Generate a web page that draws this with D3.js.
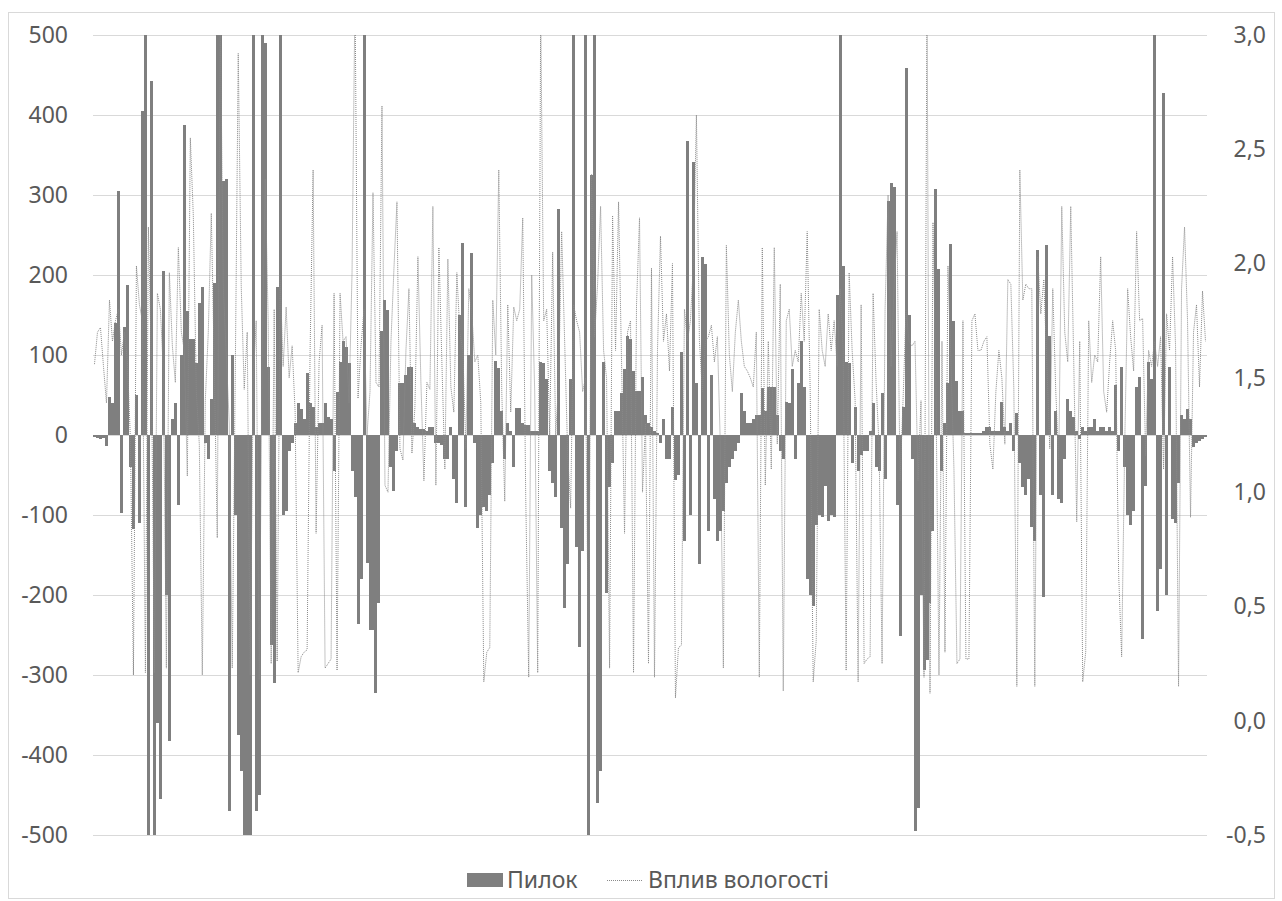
<!DOCTYPE html>
<html>
<head>
<meta charset="utf-8">
<script src="https://cdn.jsdelivr.net/npm/d3@7"></script>
<style>
  html, body { margin: 0; padding: 0; background: #ffffff; }
  svg { display: block; }
  text { font-family: "Noto Sans", "Open Sans", sans-serif; fill: #595959; }
</style>
</head>
<body>
<svg id="chart" width="1282" height="901"></svg>
<script>
// Daily dust load ("Пилок") and humidity effect ("Вплив вологості")
const pylok = [
  -3,-4,-5,-4,-14,48,40,140,305,-98,
  135,187,-40,-117,50,-110,405,600,-560,443,
  -600,-360,-455,205,-200,-383,20,40,-88,100,
  387,155,120,120,90,165,
  185,-10,-30,45,190,600,540,318,320,-470,
  100,-100,-375,-420,-520,-540,-505,600,-470,-450,
  560,490,85,-263,-310,185,560,-100,-95,-20,
  -10,15,40,33,20,78,40,35,
  10,15,15,40,22,20,-45,54,91,117,
  110,90,-45,-77,-236,-180,600,-160,-244,-244,
  -322,-210,130,169,156,-40,-70,-20,65,65,
  75,85,85,15,10,8,8,5,
  10,10,-10,-10,-12,-30,-30,10,-55,-85,
  150,240,-90,100,228,-10,-116,-100,-90,-95,
  -75,-35,93,84,30,-30,15,5,-40,34,
  34,15,12,12,5,5,5,91,
  90,70,-45,-60,-77,283,-116,-216,-161,70,
  560,-140,-265,-145,600,-560,325,580,-460,-420,
  91,-197,-65,-35,30,30,52,82,124,120,
  80,55,55,72,25,15,10,5,3,
  -10,20,-30,-30,35,-56,-50,104,-132,368,
  -100,341,65,-161,223,214,-120,75,-80,-132,
  -120,-95,-60,-40,-30,-20,-10,52,30,15,
  15,20,25,25,59,30,60,60,
  60,25,-20,-30,41,40,82,-30,65,117,
  60,-180,-200,-214,-113,-100,-103,-64,-108,-100,
  -103,175,620,211,91,90,-35,35,-45,-25,
  -20,-20,5,40,-40,-45,52,-55,
  292,315,310,-87,-251,35,459,150,-30,-495,
  -466,-200,-294,-281,-210,-120,308,208,-45,15,
  65,239,143,67,30,30,3,3,2,2,
  3,3,5,10,10,5,5,5,
  41,10,5,15,-20,28,-35,-65,-75,-55,
  -115,-132,231,-75,-203,237,124,-75,30,-80,
  -85,-30,45,30,23,5,-5,10,5,10,
  10,20,5,
  10,10,5,10,5,62,-20,85,-40,-100,
  -113,-95,60,72,-255,-64,91,70,600,-220,
  -168,428,-200,85,-105,-110,-60,25,20,33,
  20,-15,-10,-8,-5,-3
];

const vplyv = [
  1.56,1.7,1.72,1.55,1.39,1.84,1.66,1.75,1.8,1.6,
  1.7,1.57,1.23,0.2,1.99,1.82,1.75,0.21,2.16,1.57,
  0.21,1.87,1.8,1.53,0.23,1.96,1.64,1.48,2.07,1.7,
  1.62,1.07,2.55,2.21,1.44,1.21,
  0.2,1.4,1.7,2.22,1.55,0.8,3.1,1.9,1.6,1.3,
  0.23,1.5,2.92,1.9,1.45,1.7,0.2,1.5,1.75,0.18,
  1.6,2.37,1.75,0.25,1.8,0.26,1.93,1.55,1.81,1.5,
  1.64,1.35,0.21,0.28,0.3,0.31,1.62,2.41,
  0.82,1.57,1.73,0.23,0.25,0.27,1.87,0.22,1.87,1.66,
  1.68,1.39,1.96,3.2,1.41,1.64,1.8,1.25,1.44,2.31,
  1.48,1.46,2.69,1.03,1.0,1.66,1.98,2.27,1.19,1.14,
  1.62,1.89,1.17,1.37,2.03,1.48,1.05,1.48,
  1.45,2.25,1.03,2.07,1.57,1.1,2.02,1.46,1.35,1.96,
  1.7,1.62,1.19,1.89,1.78,1.57,1.6,1.39,0.17,0.3,
  0.32,1.84,1.6,2.41,1.44,0.96,1.82,1.35,1.81,1.75,
  1.8,2.2,0.98,0.19,1.95,1.44,0.21,3.1,
  1.75,1.8,1.25,2.05,1.25,1.48,2.14,1.66,1.17,0.93,
  1.82,1.75,1.7,1.44,1.5,0.21,2.39,1.68,1.91,2.25,
  1.62,1.5,0.23,2.21,1.62,2.27,1.57,0.82,1.7,1.75,
  0.21,1.82,2.2,1.0,1.3,0.25,1.98,0.19,1.62,
  2.12,1.66,1.78,1.53,2.0,0.1,0.32,0.33,1.8,1.66,
  1.75,2.0,2.65,1.66,1.44,1.66,1.68,1.73,1.57,1.68,
  1.2,0.23,2.08,1.6,1.44,1.7,1.84,1.66,1.55,1.53,
  1.5,1.46,1.7,0.19,2.07,1.03,1.66,1.1,
  2.07,1.21,1.91,0.13,1.75,1.8,1.55,1.62,1.57,1.87,
  1.66,2.14,1.44,0.17,0.35,1.8,1.62,1.55,1.78,1.62,
  1.75,1.55,1.89,1.62,0.22,1.96,1.62,1.4,0.17,1.82,
  0.25,0.27,0.28,1.87,1.48,1.2,0.25,1.8,
  2.3,1.55,1.9,2.14,1.05,1.4,1.8,1.66,1.64,1.66,
  1.05,1.4,0.19,3.2,0.12,2.18,1.44,0.2,1.66,0.3,
  1.99,1.57,1.1,0.25,0.27,1.75,0.27,0.27,1.75,1.78,
  1.62,1.62,1.66,1.68,1.21,1.1,1.44,1.62,
  1.5,1.21,1.93,1.91,1.45,0.15,2.41,1.84,1.91,1.89,
  1.89,0.15,2.03,1.78,1.93,1.57,1.19,1.89,1.44,1.14,
  2.25,1.7,1.57,2.25,1.57,0.87,1.66,0.17,0.3,1.75,
  1.48,1.6,1.57,
  2.03,1.44,1.35,1.57,1.75,1.62,0.64,0.28,1.19,1.89,
  1.68,1.53,2.14,1.75,1.76,1.16,1.62,1.55,1.66,1.55,
  1.68,1.1,1.78,1.62,2.03,1.64,0.15,1.89,2.16,1.75,
  0.89,1.7,1.82,1.46,1.88,1.66
];

// Day numbers along the (unlabelled) category axis
const days = pylok.map((_, i) => i + 1);

const leftTicks = [500, 400, 300, 200, 100, 0, -100, -200, -300, -400, -500];
const rightTicks = [3.0, 2.5, 2.0, 1.5, 1.0, 0.5, 0.0, -0.5];
const seriesNames = ["Пилок", "Вплив вологості"];

const plot = { left: 93, right: 1207, top: 35, bottom: 835 };
const barColor = "#7f7f7f";
const lineColor = "#8a8a8a";
const gridColor = "#d9d9d9";

const svg = d3.select("#chart");

// chart area frame
svg.append("rect")
  .attr("x", 8.5).attr("y", 12.5)
  .attr("width", 1266).attr("height", 886)
  .attr("fill", "#fff").attr("stroke", gridColor);

const x = d3.scaleBand().domain(days).range([plot.left, plot.right]).padding(0);
const yL = d3.scaleLinear().domain([-500, 500]).range([plot.bottom, plot.top]);
const yR = d3.scaleLinear().domain([-0.5, 3.0]).range([plot.bottom, plot.top]);

svg.append("defs").append("clipPath").attr("id", "plotClip")
  .append("rect")
  .attr("x", plot.left).attr("y", plot.top)
  .attr("width", plot.right - plot.left).attr("height", plot.bottom - plot.top);

// horizontal gridlines from the primary axis
const leftAxis = d3.axisLeft(yL).tickValues(leftTicks)
  .tickSize(-(plot.right - plot.left)).tickPadding(25)
  .tickFormat(d => String(d));
const gL = svg.append("g").attr("transform", `translate(${plot.left},0)`).call(leftAxis);
gL.select(".domain").remove();
gL.selectAll(".tick line").attr("stroke", gridColor).attr("stroke-width", 1);
gL.selectAll(".tick text")
  .attr("font-size", 23).attr("fill", "#595959")
  .attr("font-family", "'Noto Sans', 'Open Sans', sans-serif");

// secondary axis labels
const fmtR = d => d3.format(".1f")(d).replace(".", ",").replace("−", "-");
const rightAxis = d3.axisRight(yR).tickValues(rightTicks)
  .tickSize(0).tickPadding(0).tickFormat(fmtR);
const gR = svg.append("g").attr("transform", `translate(${plot.right},0)`).call(rightAxis);
gR.select(".domain").remove();
gR.selectAll(".tick text")
  .attr("font-size", 23).attr("fill", "#595959")
  .attr("text-anchor", "end").attr("x", 59)
  .attr("font-family", "'Noto Sans', 'Open Sans', sans-serif");

const body = svg.append("g").attr("clip-path", "url(#plotClip)");

// bars, snapped to whole pixels so neighbours join without seams
const bx0 = i => Math.round(x(days[i]));
const bx1 = i => Math.round(x(days[i]) + x.bandwidth());
body.append("g").attr("shape-rendering", "crispEdges").selectAll("rect")
  .data(pylok)
  .join("rect")
  .attr("x", (d, i) => bx0(i))
  .attr("width", (d, i) => bx1(i) - bx0(i))
  .attr("y", d => Math.round(yL(Math.max(0, d))))
  .attr("height", d => Math.round(Math.abs(yL(d) - yL(0))))
  .attr("fill", barColor);

// humidity line
const line = d3.line()
  .x((d, i) => x(days[i]) + x.bandwidth() / 2)
  .y(d => yR(d));
body.append("path")
  .datum(vplyv)
  .attr("d", line)
  .attr("fill", "none")
  .attr("stroke", lineColor)
  .attr("stroke-width", 1)
  .attr("stroke-dasharray", "1 1");

// legend
const lg = svg.append("g");
lg.append("rect").attr("x", 467).attr("y", 873).attr("width", 36).attr("height", 14).attr("fill", barColor);
lg.append("text").attr("x", 507).attr("y", 888).attr("font-size", 23).text(seriesNames[0]);
lg.append("line").attr("x1", 607).attr("x2", 643).attr("y1", 880.5).attr("y2", 880.5)
  .attr("stroke", lineColor).attr("stroke-width", 1).attr("stroke-dasharray", "1 1");
lg.append("text").attr("x", 648).attr("y", 888).attr("font-size", 23).text(seriesNames[1]);
</script>
</body>
</html>
